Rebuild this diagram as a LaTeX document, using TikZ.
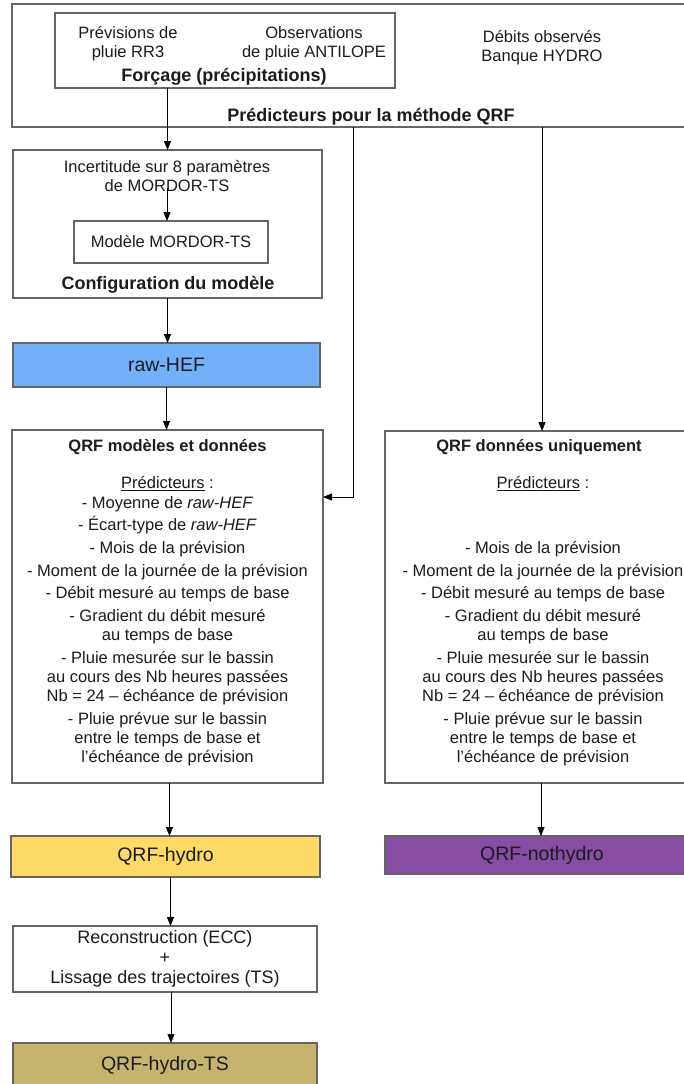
\documentclass[tikz,border=0pt]{standalone}
\usepackage{fontspec}
\setmainfont{Liberation Sans}
\usetikzlibrary{arrows.meta,calc}
\definecolor{boxline}{HTML}{656565}
\definecolor{ink}{HTML}{1C1C1C}
\definecolor{rawblue}{HTML}{72B0FA}
\definecolor{gold}{HTML}{FFD966}
\definecolor{purp}{HTML}{874CA3}
\definecolor{olivebox}{HTML}{C4B46E}
\tikzset{
  frame/.style={draw=boxline, line width=1.1pt, rectangle, inner sep=0pt, outer sep=0pt},
  txt/.style={font=\fontsize{16.5}{19.2}\selectfont, text=ink, align=center, inner sep=0pt},
  ttl/.style={font=\fontsize{18}{20}\selectfont\bfseries, text=ink, inner sep=0pt},
  sttl/.style={font=\fontsize{16.5}{19}\selectfont\bfseries, text=ink, inner sep=0pt},
  big/.style={font=\fontsize{19.5}{22}\selectfont, text=ink},
  rtxt/.style={font=\fontsize{18}{20}\selectfont, text=ink, align=center},
  arr/.style={draw=black, line width=0.9pt, -{Triangle[length=9pt,width=7pt]}}
}
\begin{document}
\begin{tikzpicture}[x=1pt,y=-1pt]
\useasboundingbox (0,0) rectangle (684,1084);
\clip (0,0) rectangle (684,1084);
\fill[white] (0,0) rectangle (684,1084);

% top predictors frame
\node[frame, minimum width=690pt, minimum height=123pt] (pred) at (357,65.5) {};
\node[frame, minimum width=340pt, minimum height=75pt] (forc) at (225,50.5) {};
\node[txt] (rr3) at (128,43.5) {Prévisions de\\pluie RR3};
\node[txt] (antl) at (314,43.5) {Observations\\de pluie ANTILOPE};
\node[ttl] (forct) at (224,77) {Forçage (précipitations)};
\node[txt] (debt) at (542,47.5) {Débits observés\\Banque HYDRO};
\node[ttl] (predt) at (371,117) {Prédicteurs pour la méthode QRF};

% model configuration
\node[frame, minimum width=309pt, minimum height=148pt] (conf) at (167.5,224) {};
\node[txt] (inct) at (167,176) {Incertitude sur 8 paramètres\\de MORDOR-TS};
\coordinate (incs) at (167,188);
\node[frame, txt, minimum width=194pt, minimum height=42pt] (mord) at (171,242) {Modèle MORDOR-TS};
\node[ttl] (conft) at (168,285) {Configuration du modèle};

\node[frame, fill=rawblue, big, minimum width=307pt, minimum height=44pt] (raw) at (166.5,365) {raw-HEF};

% QRF boxes
\node[frame, minimum width=311pt, minimum height=353pt] (qrfm) at (167.5,606.5) {};
\node[sttl] (qrfmt) at (167.5,447) {QRF modèles et données};
\node[txt, anchor=north] (qrfml) at (167.5,476.5) {\underline{Prédicteurs} :\\
- Moyenne de \textit{raw-HEF}\\[3.5pt]
- Écart-type de \textit{raw-HEF}\\[3.5pt]
- Mois de la prévision\\[3.5pt]
- Moment de la journée de la prévision\\[3.5pt]
- Débit mesuré au temps de base\\[3.5pt]
- Gradient du débit mesuré\\au temps de base\\[3.5pt]
- Pluie mesurée sur le bassin\\au cours des Nb heures passées\\Nb = 24 – échéance de prévision\\[3.5pt]
- Pluie prévue sur le bassin\\entre le temps de base et\\l’échéance de prévision};

\node[frame, minimum width=314pt, minimum height=352pt] (qrfd) at (542,607) {};
\node[sttl] (qrfdt) at (539,447) {QRF données uniquement};
\node[txt, anchor=north] (qrfdl) at (543,476.5) {\underline{Prédicteurs} :\\
\strut\\[3.5pt]
\strut\\[3.5pt]
- Mois de la prévision\\[3.5pt]
- Moment de la journée de la prévision\\[3.5pt]
- Débit mesuré au temps de base\\[3.5pt]
- Gradient du débit mesuré\\au temps de base\\[3.5pt]
- Pluie mesurée sur le bassin\\au cours des Nb heures passées\\Nb = 24 – échéance de prévision\\[3.5pt]
- Pluie prévue sur le bassin\\entre le temps de base et\\l’échéance de prévision};

% outputs
\node[frame, fill=gold, big, minimum width=309pt, minimum height=41pt] (hyd) at (165.5,856.5) {QRF-hydro};
\node[frame, fill=purp, big, minimum width=314pt, minimum height=38pt] (noth) at (542,855) {QRF-nothydro};
\node[frame, rtxt, minimum width=304pt, minimum height=66pt] (recon) at (165,959) {Reconstruction (ECC)\\+\\Lissage des trajectoires (TS)};
\node[frame, fill=olivebox, big, minimum width=304pt, minimum height=44pt] (ts) at (165,1065) {QRF-hydro-TS};

% connectors
\draw[arr] (forc.south -| conf.north) -- (conf.north);
\draw[arr] (incs) -- (incs |- mord.north);
\draw[arr] (conf.south) -- (conf.south |- raw.north);
\draw[arr] (raw.south) -- (raw.south |- qrfm.north);
\draw[arr] ([xshift=2pt]qrfm.south) -- ([xshift=2pt]qrfm.south |- hyd.north);
\draw[arr] ([xshift=5pt]hyd.south) -- ([xshift=5pt]hyd.south |- recon.north);
\draw[arr] ([xshift=6pt]recon.south) -- ([xshift=6pt]recon.south |- ts.north);
\draw[arr] (pred.south -| qrfd.north) -- (qrfd.north);
\coordinate (j) at (353,497);
\draw[arr] (pred.south -| j) -- (j) -- (j -| qrfm.east);
\draw[arr] ([xshift=-1pt]qrfd.south) -- ([xshift=-1pt]qrfd.south |- noth.north);
\end{tikzpicture}
\end{document}
